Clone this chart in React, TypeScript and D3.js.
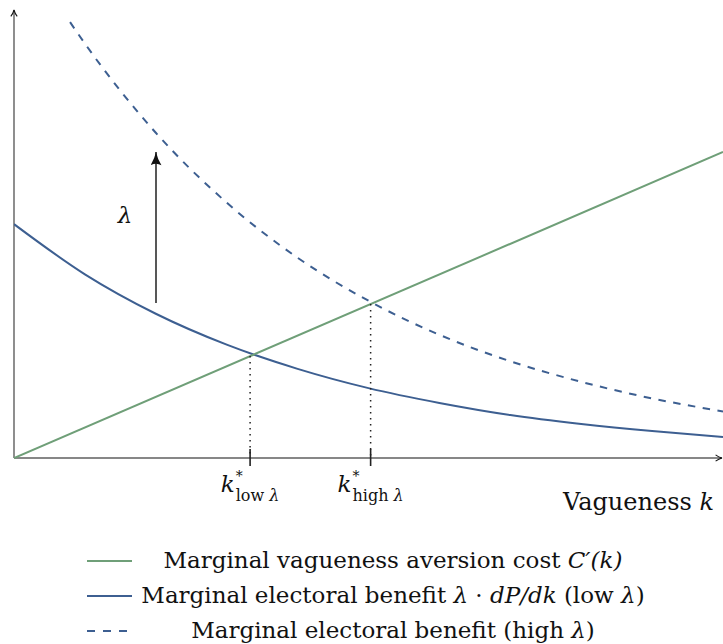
import { useEffect, useRef } from "react";
import * as d3 from "d3";

// values (k from 0 to 10)
const kCost = [0, 10];
const costValues = [0, 6.83];

const kBenefit = [0, 1, 2, 3, 4, 5, 6, 7, 8, 9, 10];
const lowBenefit = [5.22, 4.1, 3.22, 2.53, 1.99, 1.56, 1.23, 0.96, 0.76, 0.6, 0.47];

const kHigh = [0.79, 1, 2, 3, 4, 5, 6, 7, 8, 9, 10];
const highBenefit = [9.73, 9.25, 7.26, 5.7, 4.47, 3.51, 2.75, 2.16, 1.7, 1.33, 1.04];

// equilibrium k values
const kStarLow = 3.33;
const kStarHigh = 5.03;
const starLabels = ["low ", "high "];

// legend text pieces: [text, italic]
const legendLabels: [string, boolean][][] = [
  [["Marginal vagueness aversion cost ", false], ["C′(k)", true]],
  [
    ["Marginal electoral benefit ", false],
    ["λ", true],
    [" · ", false],
    ["dP/dk", true],
    [" (low ", false],
    ["λ", true],
    [")", false],
  ],
  [["Marginal electoral benefit (high ", false], ["λ", true], [")", false]],
];

const GREEN = "#6f9f78";
const BLUE = "#3d5f91";
const FONT = "'DejaVu Serif', serif";

const App = () => {
  const ref = useRef<SVGSVGElement | null>(null);

  useEffect(() => {
    if (!ref.current) return;
    const svg = d3.select(ref.current);
    svg.selectAll("*").remove();

    const x = d3.scaleLinear().domain([0, 10]).range([14, 723]);
    const y = d3.scaleLinear().domain([0, 10]).range([458, 10]);

    const defs = svg.append("defs");
    defs
      .append("marker")
      .attr("id", "axisHead")
      .attr("viewBox", "0 0 10 10")
      .attr("refX", 9)
      .attr("refY", 5)
      .attr("markerWidth", 8)
      .attr("markerHeight", 8)
      .attr("markerUnits", "userSpaceOnUse")
      .attr("orient", "auto")
      .append("path")
      .attr("d", "M1,1 Q5,4 9,5 Q5,6 1,9")
      .attr("fill", "none")
      .attr("stroke", "#111")
      .attr("stroke-width", 1.3);
    defs
      .append("marker")
      .attr("id", "bigHead")
      .attr("viewBox", "0 0 14 18")
      .attr("refX", 17)
      .attr("refY", 7)
      .attr("markerWidth", 18)
      .attr("markerHeight", 14)
      .attr("markerUnits", "userSpaceOnUse")
      .attr("orient", "auto")
      .append("path")
      .attr("d", "M0,0 Q8,5 17,7 Q8,9 0,14 Q4,7 0,0 Z")
      .attr("fill", "#111");

    // axes
    svg
      .append("line")
      .attr("x1", x(0))
      .attr("x2", 722)
      .attr("y1", y(0))
      .attr("y2", y(0))
      .attr("stroke", "#111")
      .attr("stroke-width", 1.2)
      .attr("marker-end", "url(#axisHead)");
    svg
      .append("line")
      .attr("x1", x(0))
      .attr("x2", x(0))
      .attr("y1", y(0))
      .attr("y2", 10)
      .attr("stroke", "#444")
      .attr("stroke-width", 1.2)
      .attr("marker-end", "url(#axisHead)");

    const clip = defs.append("clipPath").attr("id", "plotClip");
    clip.append("rect").attr("x", 14).attr("y", 0).attr("width", 709).attr("height", 460);

    const g = svg.append("g").attr("clip-path", "url(#plotClip)");

    const line = d3
      .line<[number, number]>()
      .x((d) => x(d[0]))
      .y((d) => y(d[1]))
      .curve(d3.curveMonotoneX);

    const costPts = kCost.map((k, i) => [k, costValues[i]] as [number, number]);
    const lowPts = kBenefit.map((k, i) => [k, lowBenefit[i]] as [number, number]);
    const highPts = kHigh.map((k, i) => [k, highBenefit[i]] as [number, number]);

    g.append("path")
      .datum(highPts)
      .attr("fill", "none")
      .attr("stroke", BLUE)
      .attr("stroke-width", 2)
      .attr("stroke-dasharray", "7.5,7.5")
      .attr("d", line);
    g.append("path")
      .datum(lowPts)
      .attr("fill", "none")
      .attr("stroke", BLUE)
      .attr("stroke-width", 2)
      .attr("d", line);
    g.append("path")
      .datum(costPts)
      .attr("fill", "none")
      .attr("stroke", GREEN)
      .attr("stroke-width", 2)
      .attr("d", line);

    // equilibrium dotted guides, ticks and labels
    const costAt = d3.scaleLinear().domain(kCost).range(costValues);
    [kStarLow, kStarHigh].forEach((k, i) => {
      svg
        .append("line")
        .attr("x1", x(k))
        .attr("x2", x(k))
        .attr("y1", y(costAt(k)))
        .attr("y2", y(0))
        .attr("stroke", "#222")
        .attr("stroke-width", 1.5)
        .attr("stroke-dasharray", "1.5,4.5");
      svg
        .append("line")
        .attr("x1", x(k))
        .attr("x2", x(k))
        .attr("y1", y(0) - 9)
        .attr("y2", y(0) + 8)
        .attr("stroke", "#222")
        .attr("stroke-width", 1.6);

      // k with superscript star and subscript, measured then centred on the tick
      const lab = svg.append("g").attr("font-family", FONT).attr("fill", "#111");
      const kText = lab
        .append("text")
        .attr("x", 0)
        .attr("y", 492)
        .attr("font-style", "italic")
        .attr("font-size", 23)
        .text("k");
      const kw = (kText.node() as SVGTextElement).getComputedTextLength();
      lab
        .append("text")
        .attr("x", kw + 1)
        .attr("y", 481)
        .attr("font-size", 14)
        .text("*");
      const sub = lab
        .append("text")
        .attr("x", kw + 1)
        .attr("y", 501)
        .attr("font-size", 16);
      sub.append("tspan").text(starLabels[i]);
      sub.append("tspan").attr("font-style", "italic").text("λ");
      const sw = (sub.node() as SVGTextElement).getComputedTextLength();
      const total = kw + 1 + sw;
      lab.attr("transform", `translate(${x(k) - total / 2},0)`);
    });

    // lambda arrow
    svg
      .append("line")
      .attr("x1", 156)
      .attr("x2", 156)
      .attr("y1", 303)
      .attr("y2", 152)
      .attr("stroke", "#111")
      .attr("stroke-width", 1.4)
      .attr("marker-end", "url(#bigHead)");
    svg
      .append("text")
      .attr("x", 125)
      .attr("y", 223)
      .attr("text-anchor", "middle")
      .attr("font-family", FONT)
      .attr("font-style", "italic")
      .attr("font-size", 23)
      .attr("fill", "#111")
      .text("λ");

    // x axis title
    const xt = svg
      .append("text")
      .attr("x", 714)
      .attr("y", 510)
      .attr("text-anchor", "end")
      .attr("font-family", FONT)
      .attr("font-size", 24)
      .attr("fill", "#111");
    xt.append("tspan").text("Vagueness ");
    xt.append("tspan").attr("font-style", "italic").text("k");

    // legend
    const rows = [
      { y: 561, color: GREEN, dash: null as string | null },
      { y: 596, color: BLUE, dash: null as string | null },
      { y: 631, color: BLUE, dash: "8,8" },
    ];
    rows.forEach((r, i) => {
      svg
        .append("line")
        .attr("x1", 87)
        .attr("x2", 132)
        .attr("y1", r.y)
        .attr("y2", r.y)
        .attr("stroke", r.color)
        .attr("stroke-width", 2)
        .attr("stroke-dasharray", r.dash);
      const t = svg
        .append("text")
        .attr("x", 393)
        .attr("y", r.y + 7)
        .attr("text-anchor", "middle")
        .attr("font-family", FONT)
        .attr("font-size", 23)
        .attr("fill", "#111");
      legendLabels[i].forEach(([s, it]) => {
        t.append("tspan")
          .attr("font-style", it ? "italic" : "normal")
          .text(s);
      });
    });
  }, []);

  return (
    <svg
      ref={ref}
      width={723}
      height={644}
      style={{ position: "absolute", left: 0, top: 0, background: "#fff" }}
    />
  );
};

export default App;
